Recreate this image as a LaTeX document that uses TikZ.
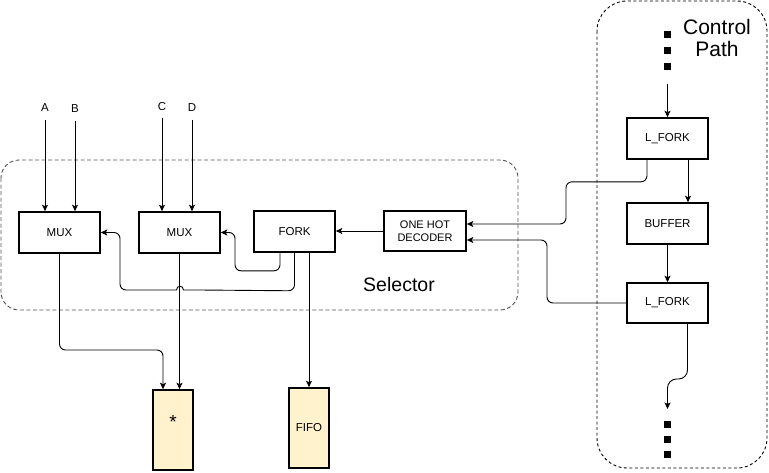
\documentclass[tikz,border=0pt]{standalone}
\usepackage{fontspec}
\setmainfont{Liberation Sans}
\usetikzlibrary{arrows.meta}
\definecolor{boxfill}{HTML}{FFF2CC}
\definecolor{selgray}{HTML}{555555}
\tikzset{
  blk/.style={draw=black, line width=1.6pt, minimum width=81pt, minimum height=41pt, inner sep=1pt, font=\fontsize{11.5}{13}\selectfont, align=center},
  mem/.style={draw=black, line width=1.6pt, fill=boxfill, minimum width=40pt, minimum height=80pt, inner sep=0pt, font=\fontsize{11.5}{13}\selectfont},
  lbl/.style={inner sep=1pt, font=\fontsize{11.5}{13}\selectfont},
  arr/.style={-{Stealth[length=6.5pt,width=6pt,inset=1.5pt]}, line width=0.9pt, black},
  rc/.style={rounded corners=6pt},
  dot/.style={fill=black, minimum size=7pt, inner sep=0pt},
  grp/.style={line width=0.9pt},
}
\begin{document}
\begin{tikzpicture}[x=1pt,y=-1pt]
\useasboundingbox (0,0) rectangle (769,472);
% groups
\draw[grp, selgray, dash pattern=on 4pt off 2.5pt, rounded corners=18pt] (1,160) rectangle (518,310);
\draw[grp, black, dash pattern=on 3pt off 2.5pt, rounded corners=30pt] (597,1) rectangle (767,468);
\node[anchor=base, inner sep=0pt, font=\fontsize{19.5}{22}\selectfont] (seltxt) at (399,291.5) {Selector};
\node[anchor=north, inner sep=0pt, align=center, font=\fontsize{21}{22}\selectfont] (cptxt) at (717,19) {Control\\Path};
% blocks
\node[blk] (mux1) at (59.5,232.5) {MUX};
\node[blk] (mux2) at (179.5,232.5) {MUX};
\node[blk] (fork) at (294.5,231.5) {FORK};
\node[blk, minimum width=82pt, minimum height=40pt, font=\fontsize{11}{13}\selectfont] (dec) at (425,231) {ONE HOT\\DECODER};
\node[blk] (lf1) at (667.5,138.5) {L\_FORK};
\node[blk] (buf) at (667.5,223.5) {BUFFER};
\node[blk, minimum height=40pt] (lf2) at (667.5,303) {L\_FORK};
\node[mem] (star) at (173,430) {};
\node[inner sep=0pt, font=\fontsize{19}{19}\selectfont] (starlbl) at (173,422) {*};
\node[mem] (fifo) at (309,428) {FIFO};
% inputs
\node[lbl] (A) at (45,107.5) {A};
\node[lbl] (B) at (75,109) {B};
\node[lbl] (C) at (162,107) {C};
\node[lbl] (D) at (192,107.5) {D};
\draw[arr] ([yshift=-7pt]A.south) -- (A.south |- mux1.north);
\draw[arr] ([yshift=-7pt]B.south) -- (B.south |- mux1.north);
\draw[arr] ([yshift=-6pt]C.south) -- (C.south |- mux2.north);
\draw[arr] ([yshift=-7pt]D.south) -- (D.south |- mux2.north);
% dots
\node[dot] (t1) at (667.5,34) {};
\node[dot] (t2) at (667.5,50) {};
\node[dot] (t3) at (667.5,66) {};
\node[dot] (b1) at (667.5,424) {};
\node[dot] (b2) at (667.5,439) {};
\node[dot] (b3) at (667.5,454) {};
\coordinate (topstart) at (667.5,84);
\coordinate (botend) at (667.5,409);
% connectors
\draw[arr] (dec.west) -- (fork.east |- dec.west);
\draw[arr, rc] ([xshift=-14.5pt]fork.south) -- ++(0,18) -- ++(-45,0) |- (mux2.east);
\draw[arr] (fork.south) [rounded corners=6pt] -- ++(0,38) -- (200,290) [sharp corners] -- (183.5,290) .. controls (183.5,285) and (176.5,285) .. (176.5,290) -- (140,290) [rounded corners=6pt] -- (120,290) |- (mux1.east);
\draw[arr] (fifo.north |- fork.south) -- (fifo.north);
\draw[arr, rc] (mux1.south) -- (59.5,350) -| ([xshift=-10pt]star.north);
\draw[arr] (mux2.south) -- (mux2.south |- star.north);
\draw[arr, rc] ([xshift=-20.5pt]lf1.south) -- ++(0,22) -| (566,224) -- ([yshift=7pt]dec.east);
\draw[arr, rc] (lf2.west) -| (547,240) -- ([yshift=-9pt]dec.east);
\draw[arr] (topstart) -- (lf1.north);
\draw[arr] ([xshift=20.5pt]lf1.south) -- ([xshift=20.5pt]buf.north);
\draw[arr] (buf.south) -- (lf2.north);
\draw[arr, rounded corners=9pt] ([xshift=20pt]lf2.south) -- (687.5,379) -- (667.5,379) -- (botend);
\end{tikzpicture}
\end{document}
